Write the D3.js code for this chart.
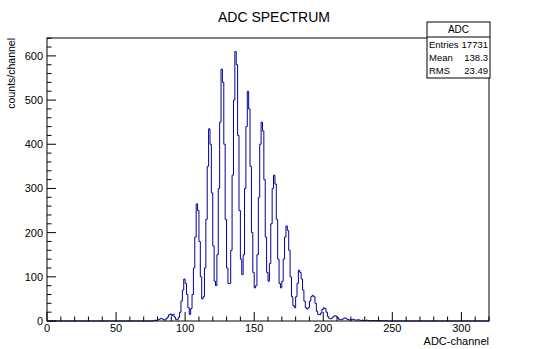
<!DOCTYPE html>
<html><head><meta charset="utf-8">
<script src="https://cdn.jsdelivr.net/npm/d3@7"></script>
<style>body{margin:0;background:#fff}svg{display:block}text{font-family:"Liberation Sans",Arial,sans-serif}</style>
</head><body><svg id="c" width="548" height="349"></svg>
<script>
const title = "ADC SPECTRUM";
const xTitle = "ADC-channel";
const yTitle = "counts/channel";
const xTickLabels = [0, 50, 100, 150, 200, 250, 300];
const yTickLabels = [0, 100, 200, 300, 400, 500, 600];
const statsName = "ADC";
const statsLabels = ["Entries", "Mean", "RMS"];
const statsValues = ["17731", "138.3", "23.49"];
// first channel of the counts array
const firstChannel = 77;
const counts = [
 1,2,1,3,4,6,5,3,2,5,            // 77-86
 9,14,16,12,15,9,4,3,8,20,       // 87-96
 45,70,95,85,60,30,15,28,60,120, // 97-106
 190,265,250,180,100,50,55,120,230,350, // 107-116
 435,400,290,170,90,80,150,300,450,570, // 117-126
 540,400,230,120,85,85,160,330,500,610, // 127-136
 580,420,250,140,105,150,300,440,520,480, // 137-146
 350,200,110,75,80,150,280,400,450,430, // 147-156
 320,190,110,90,130,220,300,330,310,230, // 157-166
 140,85,75,90,140,190,215,205,160,100, // 167-176
 55,35,30,55,85,115,110,95,70,45, // 177-186
 30,27,30,45,55,58,55,40,22,15, // 187-196
 14,18,26,30,28,20,10,6,5,7, // 197-206
 10,12,11,8,4,3,3,5,7,6, // 207-216
 4,3,2,3,4,3,2,2,3,2, // 217-226
 1,2,1,1,2,1,1,0,1,1, // 227-236
 0,1,0,1,0,1,0,0,1,0 // 237-246
];
const xMax = 320;

const svg = d3.select("#c");
const m = {l:47, r:489, t:38, b:321};
const maxCount = d3.max(counts);
const x = d3.scaleLinear().domain([0, xMax]).range([m.l, m.r]);
const y = d3.scaleLinear().domain([0, maxCount*1.05]).range([m.b, m.t]);

// histogram step path
const bins = counts.map((v,i)=>({x0:firstChannel+i, x1:firstChannel+i+1, v}));
let d = `M${x(0)},${y(0)}`;
d += `L${x(firstChannel)},${y(0)}`;
bins.forEach(b=>{ d += `L${x(b.x0)},${y(b.v)}L${x(b.x1)},${y(b.v)}`; });
d += `L${x(firstChannel+counts.length)},${y(0)}L${x(xMax)},${y(0)}`;
svg.append("path").attr("d", d).attr("fill","none").attr("stroke","#000099").attr("stroke-width",1);

// frame
svg.append("rect").attr("x",m.l).attr("y",m.t).attr("width",m.r-m.l).attr("height",m.b-m.t)
  .attr("fill","none").attr("stroke","#000").attr("stroke-width",1);

// x ticks
const xMinor = d3.range(0, xMax+1, 10);
svg.append("g").selectAll("line").data(xMinor).join("line")
  .attr("x1",v=>x(v)).attr("x2",v=>x(v)).attr("y1",m.b).attr("y2",v=>m.b-(v%50===0?9:4.5))
  .attr("stroke","#000");
svg.append("g").selectAll("text").data(xTickLabels).join("text")
  .attr("x",v=>x(v)).attr("y",m.b+11).attr("text-anchor","middle").attr("font-size",11).text(v=>v);

// y ticks
const yMinor = d3.range(0, maxCount*1.05, 20);
svg.append("g").selectAll("line").data(yMinor).join("line")
  .attr("x1",m.l).attr("x2",v=>m.l+(v%100===0?9:4.5)).attr("y1",v=>y(v)).attr("y2",v=>y(v))
  .attr("stroke","#000");
svg.append("g").selectAll("text").data(yTickLabels).join("text")
  .attr("x",m.l-4).attr("y",v=>y(v)+4).attr("text-anchor","end").attr("font-size",11).text(v=>v);

// titles
svg.append("text").attr("x",274).attr("y",22).attr("text-anchor","middle").attr("font-size",14).text(title);
svg.append("text").attr("x",m.r).attr("y",345).attr("text-anchor","end").attr("font-size",11).text(xTitle);
svg.append("text").attr("transform",`translate(15,${m.t}) rotate(-90)`).attr("text-anchor","end").attr("font-size",10.5).text(yTitle);

// stats box
const sb = {x:427, y:22, w:63, h:56};
svg.append("rect").attr("x",sb.x).attr("y",sb.y).attr("width",sb.w).attr("height",sb.h).attr("fill","#fff").attr("stroke","#000");
svg.append("line").attr("x1",sb.x).attr("x2",sb.x+sb.w).attr("y1",sb.y+15).attr("y2",sb.y+15).attr("stroke","#000");
svg.append("text").attr("x",sb.x+sb.w/2).attr("y",sb.y+11).attr("text-anchor","middle").attr("font-size",10).text(statsName);
statsLabels.forEach((l,i)=>{
  svg.append("text").attr("x",sb.x+2).attr("y",sb.y+26+i*13).attr("font-size",9.5).text(l);
  svg.append("text").attr("x",sb.x+sb.w-2).attr("y",sb.y+26+i*13).attr("text-anchor","end").attr("font-size",9.5).text(statsValues[i]);
});
</script></body></html>
